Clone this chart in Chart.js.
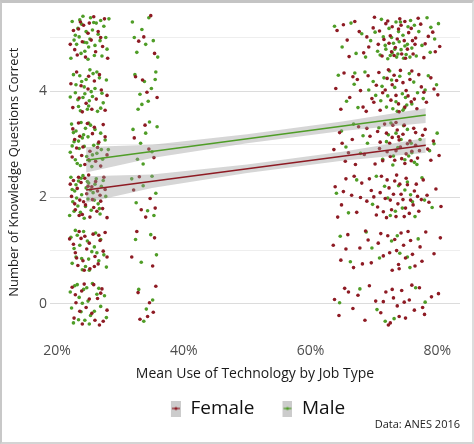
<!DOCTYPE html>
<html>
<head>
<meta charset="utf-8">
<script src="https://cdn.jsdelivr.net/npm/chart.js@4.4.1/dist/chart.umd.min.js"></script>
<style>
  html, body { margin: 0; padding: 0; background: #fff; }
  #wrap { position: relative; width: 474px; height: 444px; }
  #frame {
    position: absolute; left: 0; top: 0; width: 470px; height: 439px;
    border-top: 3px solid #c4c4c4; border-left: 2px solid #c8c8c8;
    border-right: 2px solid #dcdcdc; border-bottom: 2px solid #d4d4d4;
    pointer-events: none;
  }
</style>
</head>
<body>
<div id="wrap">
  <canvas id="knowChart"></canvas>
  <div id="frame"></div>
</div>
<script>
const FONT = "'Open Sans', sans-serif";
const FEMALE = "#8e1b24";
const MALE = "#4f9d27";

// --- axes ---
const xTicks = [20, 40, 60, 80];
const yTicks = [0, 1, 2, 3, 4, 5];
const yLabelled = [0, 2, 4];

// --- fitted lines (ends) ---
const fitX = [24.6, 78.2];
const femaleFit = [2.14, 2.98];
const maleFit = [2.70, 3.55];

// --- confidence ribbons ---
const bandX = [24.6, 35, 50, 65, 78.2];
const femaleUpper = [2.40, 2.43, 2.62, 2.86, 3.12];
const femaleLower = [1.90, 2.18, 2.46, 2.69, 2.84];
const maleUpper = [2.95, 2.99, 3.19, 3.43, 3.68];
const maleLower = [2.47, 2.74, 3.02, 3.25, 3.40];

// --- jittered respondents: [tech use %, questions correct] ---
const femalePts = [
  // ~25% jobs
  [22.1,4.88],[23.7,5.30],[24.9,5.09],[26.1,4.74],[27.5,5.36],[25.4,4.96],[23.2,4.68],[26.9,5.01],[24.2,5.24],[22.6,5.14],[28.0,4.62],[25.8,5.40],
  [22.8,4.78],[23.4,5.17],[24.5,4.64],[25.1,5.28],[26.5,5.12],[27.2,4.84],[24.0,4.93],
  [23.1,4.36],[25.9,4.19],[27.0,4.02],[24.6,3.77],[22.5,3.69],[26.2,3.85],[23.8,4.10],[27.6,3.64],[25.0,4.28],[24.0,3.61],
  [22.2,4.14],[23.5,3.87],[24.9,4.04],[25.5,3.66],[26.7,4.31],[27.9,3.92],
  [22.5,3.29],[23.6,3.15],[24.8,3.39],[26.6,3.04],[27.3,3.37],[23.1,2.93],[25.2,2.87],[26.1,2.68],[22.4,2.76],[24.4,2.62],[27.9,2.80],[25.6,3.20],[23.9,2.79],[26.9,2.59],
  [22.8,3.09],[23.4,3.40],[24.1,2.95],[25.0,2.71],[25.9,3.32],[26.4,2.94],[27.6,3.14],
  [22.6,2.32],[23.2,2.17],[24.4,2.36],[25.5,2.20],[26.4,2.12],[27.4,2.38],[22.3,2.02],[23.6,1.95],[24.7,2.07],[25.8,1.81],[26.9,1.93],[22.9,1.77],[24.0,1.68],[25.2,1.63],[26.3,1.74],[27.9,1.62],[23.8,2.28],[25.0,2.42],[27.2,1.79],[24.5,1.86],
  [22.1,2.25],[22.8,1.88],[23.4,2.38],[24.2,1.92],[24.9,2.21],[25.6,1.96],[26.1,2.30],[26.8,2.04],[27.6,2.15],[23.5,1.66],
  [22.0,1.22],[23.5,1.36],[24.4,1.27],[25.7,1.31],[26.8,1.19],[27.6,1.34],[22.9,0.96],[24.7,1.03],[26.0,0.89],[23.3,0.72],[25.2,0.66],[26.5,0.75],[27.9,0.88],[24.1,0.81],
  [22.6,1.12],[23.8,1.23],[24.3,0.63],[25.1,1.14],[25.9,0.70],[26.6,1.29],[27.3,0.99],[23.1,0.86],
  [22.4,0.31],[23.9,0.24],[25.8,0.36],[27.1,0.28],[23.0,0.02],[24.6,-0.07],[26.4,0.10],[22.7,-0.27],[24.0,-0.38],[25.5,-0.18],[27.3,-0.33],[26.7,-0.40],
  [22.9,0.17],[23.6,-0.14],[24.3,0.37],[25.1,0.09],[26.0,-0.31],[26.9,0.20],[27.9,-0.12],
  // ~34% jobs
  [34.8,5.42],[33.7,5.02],[35.4,4.71],[32.9,4.94],
  [33.5,4.21],[34.2,3.98],[32.4,4.27],[35.8,3.88],
  [33.9,3.36],[35.3,2.75],[32.2,3.12],[34.5,2.91],
  [33.0,2.39],[34.7,1.98],[35.5,1.80],[32.1,2.14],[34.0,1.63],[33.3,1.77],
  [32.6,1.36],[35.1,0.71],[31.8,0.88],[35.4,1.24],
  [32.8,0.21],[34.6,0.02],[35.2,-0.16],[34.3,-0.24],[33.1,-0.29],[35.6,0.33],
  // 64-80% jobs
  [64.2,5.14],[65.8,4.96],[67.0,5.31],[68.4,4.72],[69.9,5.19],[70.7,4.88],[71.9,5.27],[72.6,5.04],[73.4,4.82],[74.1,5.36],[74.8,4.95],[75.5,5.10],[76.2,4.70],[77.4,5.26],
  [78.1,4.89],[79.3,5.11],[80.4,4.84],[66.1,4.65],[68.9,5.02],[71.3,4.66],[72.8,4.74],[73.9,5.17],[75.0,4.62],[76.6,5.00],[77.9,4.63],[70.1,5.39],[65.2,5.25],[74.4,4.70],
  [70.9,5.13],[71.6,4.97],[72.2,5.32],[72.9,5.21],[73.2,4.67],[73.7,4.98],[74.3,5.24],[74.9,5.31],[75.3,4.79],[75.9,5.18],[76.5,4.88],[77.0,5.37],[78.6,5.03],[79.7,4.74],
  [69.2,4.83],[67.7,5.12],[72.4,4.90],[76.1,4.95],
  [64.0,4.05],[65.3,4.34],[66.2,3.88],[67.4,4.22],[68.3,3.70],[69.1,4.29],[70.4,4.11],[71.0,3.64],[71.8,4.02],[72.7,3.83],[73.2,4.30],[73.9,3.76],[74.6,4.16],
  [75.4,3.91],[76.0,4.38],[76.8,3.67],[77.5,4.08],[78.3,3.79],[79.0,4.25],[80.1,3.93],[64.8,3.66],[69.7,3.86],[72.3,4.40],[74.0,3.61],[75.9,3.80],[67.9,4.01],
  [70.8,4.35],[71.4,3.97],[72.1,4.24],[72.9,4.12],[73.5,3.92],[74.2,4.39],[74.9,3.70],[75.7,4.22],[76.4,3.85],[77.1,4.31],[77.9,3.98],[79.5,4.04],
  [66.7,4.27],[68.8,3.62],[70.0,3.79],[73.6,4.20],[75.1,4.01],
  [63.7,2.90],[64.6,3.22],[65.5,2.68],[66.6,3.09],[67.6,3.33],[68.5,2.81],[69.4,3.15],[70.2,2.63],[71.0,3.04],[71.7,3.38],[72.1,2.86],[72.9,3.13],[73.3,2.70],[73.7,3.27],[74.2,2.95],
  [74.6,3.19],[75.1,2.82],[75.7,3.06],[76.3,3.30],[76.9,2.74],[77.7,3.17],[78.5,2.91],[79.4,3.06],[80.3,2.79],[66.0,2.84],[70.6,3.24],[72.5,3.02],[73.5,3.41],[74.9,2.64],[76.6,2.98],
  [70.9,2.92],[71.4,2.69],[72.0,3.21],[72.6,2.77],[73.0,3.36],[73.5,2.88],[74.0,3.08],[74.4,2.73],[74.8,3.36],[75.3,3.01],[75.9,2.69],[76.6,3.22],[77.2,2.88],[78.1,3.28],[79.0,2.70],
  [67.1,2.62],[68.9,3.30],[65.0,3.02],[76.0,2.87],[73.9,3.14],
  [63.9,2.20],[64.9,1.86],[65.6,2.35],[66.5,2.04],[67.3,1.72],[68.1,2.27],[68.9,1.93],[69.6,2.13],[70.4,1.67],[71.2,2.40],[71.8,1.98],[72.4,2.18],[72.8,1.77],[73.3,2.31],[73.8,1.88],[74.3,2.06],
  [74.8,1.64],[75.3,2.24],[75.8,1.95],[76.4,2.12],[77.1,1.74],[77.8,2.33],[78.7,1.91],[79.8,2.16],[80.6,1.83],[64.3,1.63],[66.9,2.40],[70.0,2.01],[72.0,1.62],[73.6,2.42],[75.0,1.80],[76.9,2.02],
  [71.0,2.09],[71.5,1.73],[72.1,2.33],[72.6,1.95],[73.1,2.06],[73.5,1.64],[74.1,2.25],[74.6,1.96],[75.1,2.36],[75.6,1.70],[76.2,1.86],[76.7,2.25],[77.5,1.96],[78.4,2.04],
  [65.2,2.11],[67.9,2.00],[69.3,2.35],[70.6,1.82],
  [63.6,1.10],[64.8,0.82],[65.9,1.30],[66.8,0.68],[67.8,1.05],[68.7,1.37],[69.6,0.77],[70.7,1.14],[71.5,0.90],[72.2,1.28],[72.9,0.63],[73.6,1.00],[74.3,1.33],[75.0,0.86],
  [75.8,1.19],[76.5,0.71],[77.3,1.07],[78.2,1.35],[79.5,0.94],[80.5,1.24],[69.1,1.20],[73.9,0.74],
  [71.1,1.32],[72.5,0.96],[73.3,1.21],[74.0,0.66],[74.7,1.10],[75.4,1.36],[76.1,0.93],[77.6,0.80],[65.6,1.03],[68.2,0.75],
  [63.8,0.08],[64.5,-0.22],[65.4,0.29],[66.7,-0.09],[67.5,0.16],[68.6,-0.31],[69.3,0.34],[70.3,0.05],[71.1,-0.17],[71.9,0.22],[72.6,-0.36],
  [73.1,0.11],[73.7,-0.04],[74.4,0.25],[75.0,-0.27],[75.6,0.07],[76.4,-0.12],[77.2,0.30],[78.0,-0.20],[79.1,0.13],[80.2,0.19],[72.3,-0.40],
  [71.5,0.04],[72.9,0.27],[74.0,-0.24],[74.8,0.03],[76.0,0.35],[77.7,-0.07],[66.0,0.22]
];

const malePts = [
  // ~25% jobs
  [22.4,5.31],[23.1,4.88],[24.6,5.12],[25.3,5.38],[26.8,4.95],[27.4,5.22],[23.8,4.71],[22.9,5.05],[25.9,4.67],[24.1,5.41],[26.2,5.28],
  [27.9,4.79],[23.3,5.18],[25.0,4.83],[22.2,4.62],[26.5,5.07],[24.9,4.60],[23.6,5.34],[27.1,4.66],[25.6,5.15],[24.3,4.92],[28.2,5.36],
  [22.7,4.96],[23.5,5.02],[24.4,4.75],[25.2,4.98],[26.0,4.86],[26.9,5.33],[27.7,5.01],[23.9,5.26],[25.8,5.29],[24.7,4.91],
  [22.6,4.31],[23.9,4.18],[25.2,4.40],[26.7,4.25],[24.4,3.95],[25.1,3.82],[23.4,3.71],[26.0,4.05],[24.8,3.66],[22.1,3.89],[27.3,3.78],[25.7,4.33],[23.0,4.12],[24.1,3.88],[26.4,3.62],[25.4,3.99],[27.8,4.21],[23.7,3.63],
  [22.9,3.97],[23.6,4.29],[24.3,4.08],[25.0,3.72],[25.6,3.90],[26.3,4.36],[27.1,3.96],[24.6,4.22],[23.3,3.84],[26.9,3.68],
  [22.3,3.38],[23.0,3.25],[23.8,3.41],[24.5,3.30],[25.3,3.36],[26.9,3.21],[22.7,3.05],[24.0,3.12],[25.8,2.98],[27.6,3.08],[22.1,2.85],
  [23.5,2.92],[24.7,2.77],[26.3,2.83],[23.2,2.64],[25.1,2.69],[27.2,2.72],[24.2,3.18],[22.9,2.71],[26.0,3.28],[28.1,2.90],[25.5,2.58],
  [22.6,3.22],[23.4,3.06],[24.3,2.96],[24.9,3.14],[25.6,2.80],[26.5,3.01],[27.0,2.90],[23.7,2.60],[22.4,2.97],[25.0,3.40],
  [22.2,2.38],[23.4,2.31],[24.1,2.41],[25.0,2.27],[26.2,2.35],[22.8,2.12],[23.9,2.05],[24.6,2.18],[25.7,2.09],[27.0,2.21],[22.5,1.92],
  [23.3,1.84],[24.9,1.97],[26.5,1.88],[23.7,1.72],[25.4,1.76],[22.0,1.66],[24.3,1.61],[26.8,1.69],[27.7,2.02],[23.0,2.24],[25.9,1.95],
  [22.4,2.15],[23.1,1.99],[23.8,2.36],[24.5,1.83],[25.3,2.14],[26.0,2.25],[26.7,1.79],[27.3,2.32],[22.7,1.74],[24.8,2.30],
  [23.2,1.29],[24.8,1.18],[26.1,1.33],[22.7,1.04],[25.5,0.98],[23.9,0.85],[27.4,0.92],[22.4,0.76],[24.5,0.70],[26.6,0.81],[23.6,1.10],[25.1,0.63],
  [22.2,1.25],[23.0,0.88],[24.2,1.36],[25.0,0.84],[25.9,1.07],[26.9,1.21],[27.8,0.69],[24.0,0.64],[22.9,1.38],[26.3,0.96],
  [22.8,0.34],[24.2,0.27],[25.6,0.38],[23.5,0.12],[24.9,0.05],[26.3,0.18],[22.3,-0.08],[23.8,-0.15],[25.3,-0.22],[24.4,-0.31],[22.6,-0.36],[26.9,-0.05],
  [22.1,0.22],[23.2,0.36],[24.0,0.01],[24.7,0.30],[25.9,-0.14],[26.6,0.29],[27.5,0.15],[23.4,-0.30],[25.1,-0.38],[27.8,-0.26],
  // ~34% jobs
  [31.9,5.30],[33.4,5.16],[35.2,4.95],[32.6,4.73],[34.0,4.88],[35.9,4.64],[34.5,5.38],[32.2,5.01],
  [32.3,4.31],[33.8,4.18],[35.5,4.22],[33.1,3.94],[34.4,3.81],[32.8,3.66],[34.9,4.05],[35.6,4.36],[33.4,3.75],
  [32.0,3.28],[34.6,3.42],[35.8,3.33],[33.2,3.02],[35.0,2.86],[32.7,2.72],[34.0,3.21],[33.6,2.63],
  [31.8,2.35],[33.6,2.22],[35.6,2.08],[32.5,1.90],[34.3,1.75],[35.3,1.66],[35.0,2.40],
  [34.8,1.30],[33.3,0.78],[35.7,0.92],[32.4,1.21],
  [32.9,0.27],[34.1,-0.10],[35.1,0.07],[33.7,-0.33],
  // 64-80% jobs
  [63.8,5.22],[66.4,5.28],[68.1,5.08],[69.5,4.95],[71.2,5.35],[72.4,5.18],[73.5,5.30],[74.6,5.05],[75.8,5.33],[77.1,5.12],[78.4,5.38],[79.6,4.98],[71.8,4.86],[72.9,4.72],[73.6,4.64],
  [74.3,4.78],[75.1,4.69],[76.0,4.81],[72.2,4.61],[73.1,4.90],[74.9,4.85],[76.7,4.66],[70.6,4.75],[67.2,4.71],[65.0,4.83],[78.9,4.73],[75.4,5.21],[71.5,5.02],[80.2,5.27],[73.9,5.12],
  [71.0,4.68],[71.9,4.79],[72.6,4.67],[73.3,4.79],[73.8,4.70],[74.0,4.93],[74.7,4.62],[75.3,4.88],[75.7,4.64],[72.8,5.01],[74.2,5.30],[76.4,5.24],[77.6,4.86],[70.2,5.11],[68.7,4.64],[79.0,5.20],
  [64.4,4.30],[66.9,4.13],[68.6,4.36],[70.3,3.92],[71.6,4.25],[72.5,4.38],[73.3,4.07],[74.5,3.95],[75.2,3.74],[76.3,4.17],[77.8,3.86],
  [79.9,4.12],[72.0,3.70],[73.7,3.62],[74.8,3.68],[65.7,3.81],[67.5,3.69],[69.2,4.02],[71.1,3.82],[76.9,3.97],[78.6,4.29],[75.6,4.33],
  [71.3,4.09],[72.2,3.91],[72.8,4.21],[73.5,3.80],[74.1,4.28],[74.6,3.64],[75.0,3.88],[76.0,3.76],[73.0,3.67],[67.0,4.34],[69.9,4.18],[78.1,4.02],
  [64.9,3.25],[66.8,3.38],[69.0,3.02],[70.8,3.31],[72.3,3.18],[73.8,2.94],[74.7,3.35],[75.5,2.78],[76.4,2.66],
  [77.3,3.09],[78.8,2.88],[80.0,3.21],[71.4,2.72],[73.0,2.61],[67.9,2.83],[65.6,2.95],[75.9,3.02],[72.7,3.40],
  [72.0,3.05],[73.5,3.21],[74.3,3.09],[74.9,2.71],[75.3,3.28],[76.0,2.84],[73.1,2.78],[76.8,2.62],[68.3,3.16],[79.5,3.01],
  [64.1,2.08],[67.3,2.33],[69.8,1.87],[71.7,2.21],[73.4,1.74],[74.9,2.14],[76.1,1.92],[77.6,2.37],[79.2,1.81],[72.6,1.66],[75.3,2.29],[66.0,1.71],
  [72.2,1.99],[73.9,2.22],[74.5,1.80],[75.8,2.05],[76.5,1.64],[70.4,2.40],[78.0,1.95],
  [64.7,1.27],[68.8,1.35],[70.9,0.86],[72.8,1.18],[74.1,0.95],[77.0,1.22],[75.7,0.68],[66.3,0.79],
  [73.7,1.28],[75.3,0.88],[69.7,1.05],
  [64.6,0.02],[67.8,0.28],[70.5,-0.11],[73.2,-0.28],[78.1,0.03],[76.6,0.30],[71.8,-0.33]
];

function toXY(pts) {
  return pts.map(p => ({ x: p[0], y: p[1] }));
}

function zipXY(xs, ys) {
  return xs.map((x, i) => ({ x: x, y: ys[i] }));
}

// legend key: grey box with a short line and a dot
function legendKey(color) {
  const c = document.createElement("canvas");
  c.width = 30;
  c.height = 16;
  const g = c.getContext("2d");
  g.fillStyle = "#cccccc";
  g.fillRect(20, 0, 10, 16);
  g.strokeStyle = color;
  g.lineWidth = 1.2;
  g.beginPath();
  g.moveTo(21, 8);
  g.lineTo(29, 8);
  g.stroke();
  g.fillStyle = color;
  g.beginPath();
  g.arc(25, 8, 1.5, 0, Math.PI * 2);
  g.fill();
  return c;
}

function pointSet(label, pts, color) {
  return {
    label: label,
    data: toXY(pts),
    backgroundColor: color,
    borderWidth: 0,
    pointRadius: 1.8,
    order: 3
  };
}

function bandEdge(ys, fill) {
  return {
    type: "line",
    data: zipXY(bandX, ys),
    showLine: true,
    borderWidth: 0,
    borderColor: "rgba(0,0,0,0)",
    backgroundColor: "rgba(153,153,153,0.4)",
    pointRadius: 0,
    fill: fill,
    order: 2
  };
}

function fitLine(ys, color) {
  return {
    type: "line",
    data: zipXY(fitX, ys),
    showLine: true,
    borderColor: color,
    borderWidth: 1.5,
    pointRadius: 0,
    fill: false,
    order: 1
  };
}

// the legend sits a little left of the panel centre
const nudgeLegend = {
  id: "nudgeLegend",
  afterLayout(chart) {
    chart.legend.left -= 7;
    chart.legend.right -= 7;
  }
};

function renderChart() {
  const ctx = document.getElementById("knowChart").getContext("2d");
  const tickFont = { family: FONT, size: 14 };

  new Chart(ctx, {
    type: "scatter",
    data: {
      datasets: [
        pointSet("Female", femalePts, FEMALE),
        pointSet("Male", malePts, MALE),
        bandEdge(femaleUpper, false),
        bandEdge(femaleLower, "-1"),
        bandEdge(maleUpper, false),
        bandEdge(maleLower, "-1"),
        fitLine(femaleFit, FEMALE),
        fitLine(maleFit, MALE)
      ]
    },
    plugins: [nudgeLegend],
    options: {
      responsive: true,
      maintainAspectRatio: false,
      animation: false,
      layout: { padding: { left: 4, right: 14, top: 9, bottom: 6 } },
      scales: {
        x: {
          type: "linear",
          min: 18.9,
          max: 83.6,
          afterBuildTicks: s => { s.ticks = xTicks.map(v => ({ value: v })); },
          afterFit: s => { s.height = 58; },
          grid: { display: false, drawTicks: false },
          border: { display: false },
          ticks: { padding: 10, color: "#4d4d4d", font: tickFont, callback: v => v + "%" },
          title: {
            display: true,
            text: "Mean Use of Technology by Job Type",
            color: "#1a1a1a",
            font: { family: FONT, size: 14 },
            padding: { top: 0, bottom: 9 }
          }
        },
        y: {
          type: "linear",
          min: -0.55,
          max: 5.5,
          afterBuildTicks: s => { s.ticks = yTicks.map(v => ({ value: v })); },
          afterFit: s => { s.width = 46; },
          grid: {
            drawTicks: false,
            color: c => yLabelled.includes(c.tick.value) ? "#dcdcdc" : "#eeeeee"
          },
          border: { display: false },
          ticks: { padding: 3, color: "#4d4d4d", font: tickFont, callback: v => yLabelled.includes(v) ? v : "" },
          title: {
            display: true,
            text: "Number of Knowledge Questions Correct",
            color: "#1a1a1a",
            font: { family: FONT, size: 13 },
            padding: { top: 2, bottom: 0 }
          }
        }
      },
      plugins: {
        tooltip: { enabled: false },
        legend: {
          position: "bottom",
          fullSize: false,
          labels: {
            usePointStyle: true,
            pointStyleWidth: 30,
            padding: 8,
            color: "#111111",
            font: { family: FONT, size: 19 },
            generateLabels: () => [
              { text: "Female", pointStyle: legendKey(FEMALE), fontColor: "#111111", lineWidth: 0, hidden: false, datasetIndex: 0 },
              { text: "Male", pointStyle: legendKey(MALE), fontColor: "#111111", lineWidth: 0, hidden: false, datasetIndex: 1 }
            ]
          }
        },
        title: {
          display: true,
          text: "Data: ANES 2016",
          position: "bottom",
          align: "end",
          color: "#222222",
          font: { family: FONT, size: 11, weight: "normal" },
          padding: { top: -9.6, bottom: 6.4 }
        }
      }
    }
  });
}

renderChart();
</script>
</body>
</html>
